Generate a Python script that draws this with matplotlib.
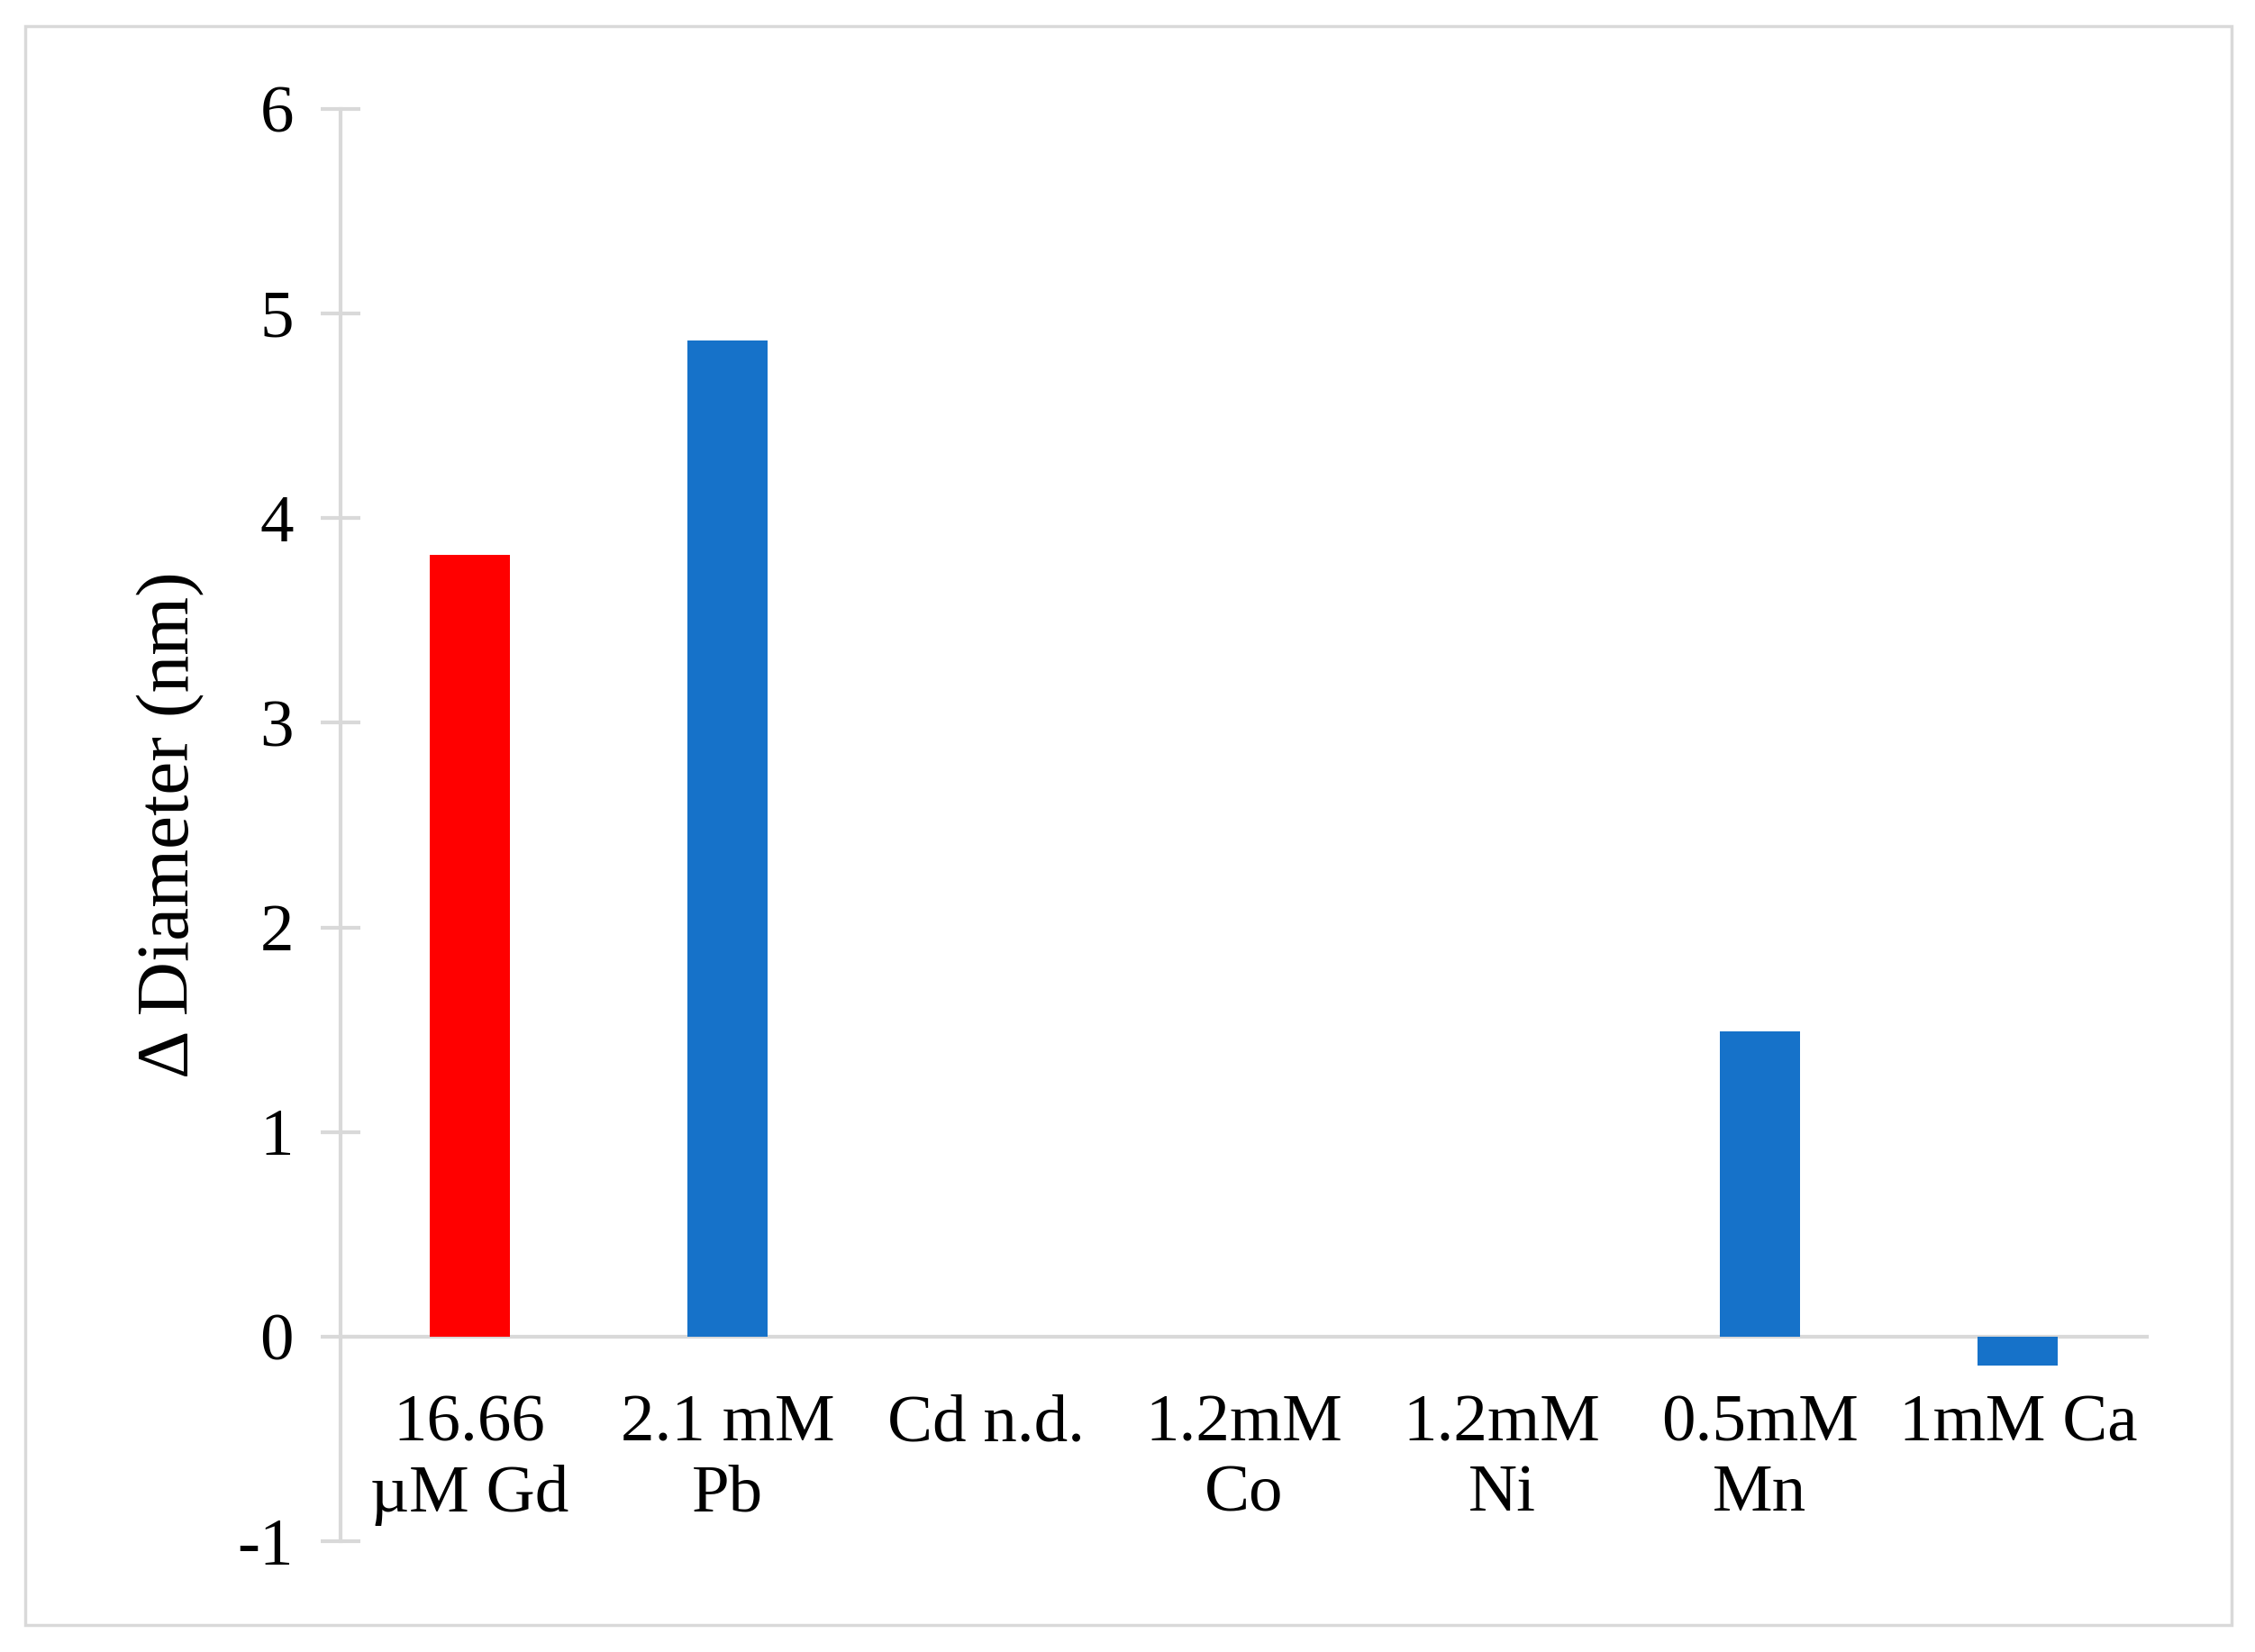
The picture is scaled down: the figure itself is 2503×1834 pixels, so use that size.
import matplotlib.pyplot as plt
from matplotlib.patches import Rectangle

# values
labels = ['16.66\nµM Gd', '2.1 mM\nPb', 'Cd n.d.', '1.2mM\nCo',
          '1.2mM\nNi', '0.5mM\nMn', '1mM Ca']
values = [3.82, 4.87, 0.0, 0.0, 0.0, 1.49, -0.14]
colors = ['#ff0000', '#1672c9', '#1672c9', '#1672c9',
          '#1672c9', '#1672c9', '#1672c9']
yticks = [-1, 0, 1, 2, 3, 4, 5, 6]
ytick_labels = ['-1', '0', '1', '2', '3', '4', '5', '6']

grey = '#d9d9d9'
plt.rcParams['font.family'] = ['Liberation Serif', 'DejaVu Serif']

fig = plt.figure(figsize=(25.03, 18.34), dpi=100)
fig.patches.append(Rectangle((28/2503, 1 - 1804/1834), (2477-28)/2503,
                             (1804-29)/1834, transform=fig.transFigure,
                             fill=False, edgecolor=grey, linewidth=2.5))

ax = fig.add_axes([378/2503, 1 - 1711/1834, (2383-378)/2503, (1711-121)/1834])
x = range(len(values))
ax.bar(x, values, width=0.31, color=colors, zorder=1)

ax.set_xlim(-0.5, len(values) - 0.5)
ax.set_ylim(-1, 6)
ax.set_yticks(yticks)
ax.set_yticklabels(ytick_labels)
ax.set_xticks(list(x))
ax.set_xticklabels(labels, linespacing=1.2)

for s in ['top', 'right']:
    ax.spines[s].set_visible(False)
ax.spines['bottom'].set_position(('data', 0))
ax.spines['bottom'].set_color(grey)
ax.spines['bottom'].set_linewidth(3)
ax.spines['bottom'].set_zorder(0)
ax.spines['left'].set_color(grey)
ax.spines['left'].set_linewidth(3)

ax.tick_params(axis='y', direction='inout', length=31, width=3, color=grey,
               labelsize=54, pad=22)
ax.tick_params(axis='x', length=0, labelsize=54, pad=46)

ax.set_ylabel('Δ Diameter (nm)', fontsize=60, labelpad=26)

fig.savefig('out.png', dpi=100)
